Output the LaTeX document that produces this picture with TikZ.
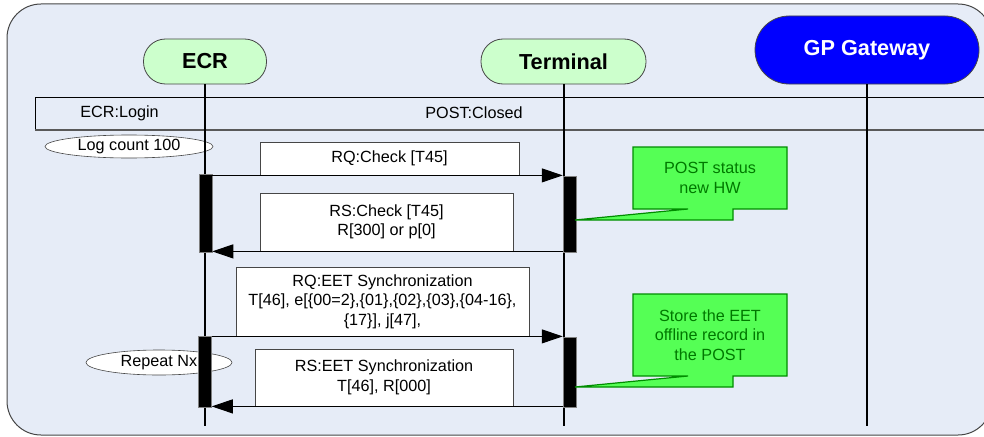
\documentclass[tikz,border=0pt]{standalone}
\usepackage{fontspec}
\setmainfont{Liberation Sans}
\usetikzlibrary{arrows.meta,shapes.geometric}
\definecolor{bgblue}{RGB}{230,236,247}
\definecolor{headgreen}{RGB}{204,255,204}
\definecolor{notegreen}{RGB}{85,255,85}
\definecolor{noteline}{RGB}{0,140,0}
\definecolor{notetext}{RGB}{0,120,0}
\definecolor{gwblue}{RGB}{0,0,255}
\definecolor{edgegray}{RGB}{70,70,70}
\begin{document}
\begin{tikzpicture}[x=1pt,y=-1pt,
  txt/.style={font=\fontsize{16.2}{19.5}\selectfont, align=center},
  lifehead/.style={draw=edgegray, line width=0.8pt, fill=headgreen, rounded corners=22pt,
    minimum height=45pt, inner sep=0pt, font=\fontsize{21.7}{24}\selectfont\bfseries},
  lifeline/.style={draw=black, line width=1.3pt},
  msgbox/.style={txt, draw=edgegray, line width=0.8pt, fill=white, inner sep=0pt},
  actbar/.style={draw=gray, line width=0.5pt, fill=black, minimum width=13pt, inner sep=0pt},
  msg/.style={draw=black, line width=1pt, -{Triangle[length=21pt,width=14pt]}},
  tag/.style={txt, draw=edgegray, line width=0.6pt, fill=white, ellipse, inner sep=0pt},
  note/.style={draw=noteline, line width=1.2pt, fill=notegreen, line join=miter},
  notelabel/.style={txt, text=notetext}]
\useasboundingbox (0,0) rectangle (984,436);
\clip (0,0) rectangle (984,436);

% outer frame
\draw[draw=edgegray, line width=1pt, fill=bgblue, rounded corners=34pt] (7,4) rectangle (992,435);

% state band
\draw[black, line width=0.8pt] (35,130) -- (35,97) -- (995,97);
\draw[gray!70!black, line width=1.6pt] (35,130) -- (995,130);
\node[txt] (login) at (119.5,113) {ECR:Login};
\node[txt] (closed) at (474,113) {POST:Closed};

% lifeline heads
\node[lifehead, minimum width=123pt] (ecr) at (205,61.5) {ECR};
\node[lifehead, minimum width=165pt] (term) at (563.5,61.5) {Terminal};
\node[lifehead, minimum width=224pt, minimum height=68pt, rounded corners=34pt,
      fill=gwblue, text=white] (gw) at (867,50) {GP Gateway};

% loop / count tags
\node[tag, minimum width=168pt, minimum height=23pt] (logc) at (129,146.5) {Log count 100};
\node[tag, minimum width=146pt, minimum height=25pt] (rep) at (159,362.5) {Repeat Nx};

% lifelines
\coordinate (ecrend) at (205,426);
\coordinate (termend) at (564,426);
\coordinate (gwend) at (867,426);
\draw[lifeline] (ecr.south) -- (ecrend);
\draw[lifeline] (term.south -| termend) -- (termend);
\draw[lifeline] (gw.south) -- (gwend);

% message labels
\node[msgbox, minimum width=259pt, minimum height=33pt] (rq1) at (389.5,158.5) {RQ:Check [T45]};
\node[msgbox, minimum width=253pt, minimum height=58pt] (rs1) at (386.5,222) {RS:Check [T45]\\R[300] or p[0]};
\node[msgbox, minimum width=293pt, minimum height=69pt] (rq2) at (382.5,301.5)
  {RQ:EET Synchronization\\T[46], e[\{00=2\},\{01\},\{02\},\{03\},\{04-16\},\\\{17\}], j[47],};
\node[msgbox, minimum width=258pt, minimum height=57pt] (rs2) at (384,377.5) {RS:EET Synchronization\\T[46], R[000]};

% activation bars
\node[actbar, minimum height=78pt] (ea1) at (205.5,213) {};
\node[actbar, minimum height=76pt] (ta1) at (569.5,214) {};
\node[actbar, minimum height=71pt] (ea2) at (205,371.5) {};
\node[actbar, minimum height=70pt] (ta2) at (569.5,372) {};

% messages
\draw[msg] (ea1.east |- rq1.south) -- (ta1.west |- rq1.south);
\draw[msg] (ta1.west |- rs1.south) -- (ea1.east |- rs1.south);
\draw[msg] (ea2.east |- rq2.south) -- (ta2.west |- rq2.south);
\draw[msg] (ta2.west |- rs2.south) -- (ea2.east |- rs2.south);

% notes
\draw[note] (633,147) -- (787,147) -- (787,209) -- (733,209) -- (733,220) -- (575,220)
  -- (688,209) -- (633,209) -- cycle;
\node[notelabel] (n1) at (710,178) {POST status\\new HW};
\draw[note] (633,294) -- (787,294) -- (787,376) -- (733,376) -- (733,387) -- (575,387)
  -- (688,376) -- (633,376) -- cycle;
\node[notelabel] (n2) at (710,335) {Store the EET\\offline record in\\the POST};
\end{tikzpicture}
\end{document}
